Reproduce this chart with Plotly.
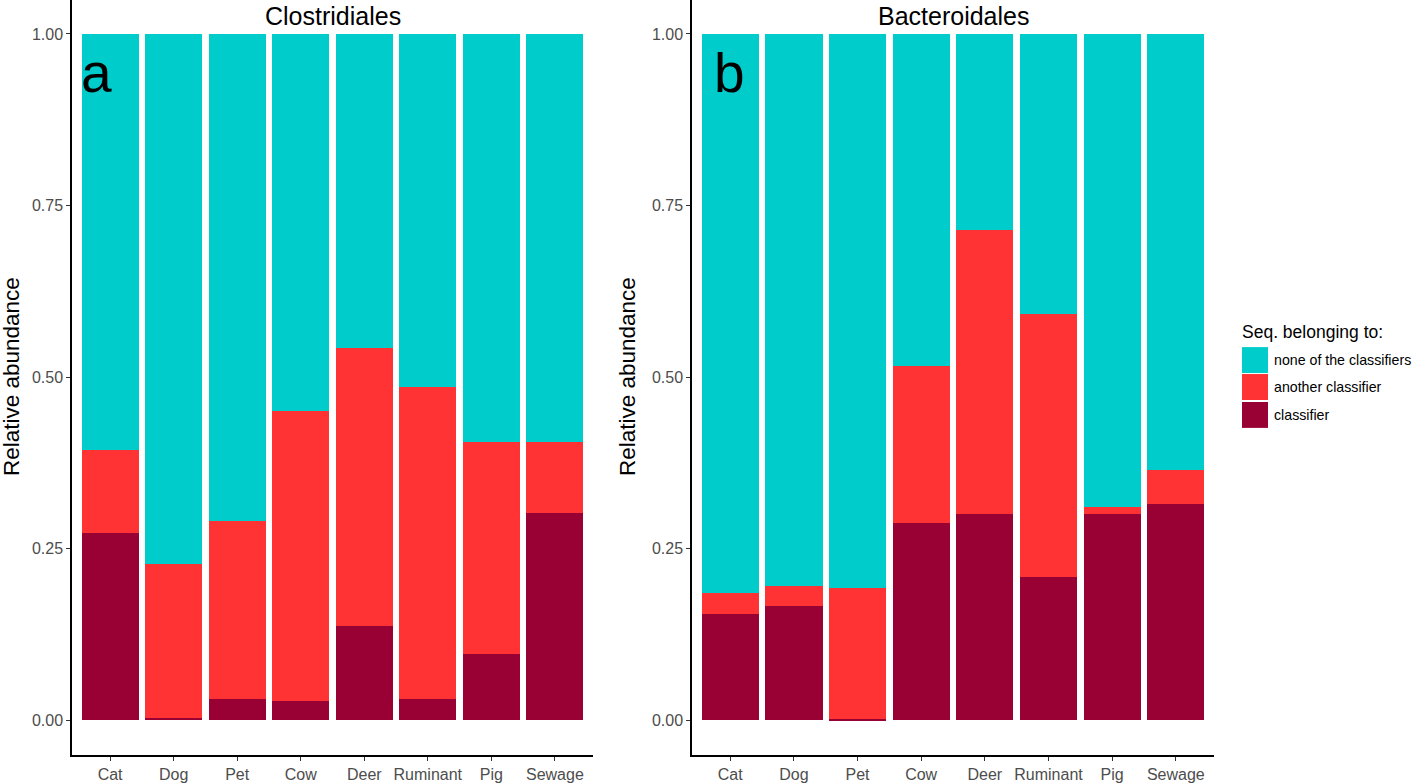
import plotly.graph_objects as go

categories = ["Cat", "Dog", "Pet", "Cow", "Deer", "Ruminant", "Pig", "Sewage"]

# Clostridiales (panel a) - classifier share and cumulative top of "another classifier"
clos_classifier = [0.273, 0.003, 0.031, 0.028, 0.137, 0.031, 0.096, 0.302]
clos_another_top = [0.394, 0.228, 0.290, 0.450, 0.542, 0.486, 0.405, 0.405]

# Bacteroidales (panel b)
bact_classifier = [0.155, 0.166, 0.002, 0.288, 0.300, 0.209, 0.300, 0.315]
bact_another_top = [0.185, 0.196, 0.192, 0.516, 0.714, 0.592, 0.311, 0.364]

series_names = ["classifier", "another classifier", "none of the classifiers"]
legend_order = ["none of the classifiers", "another classifier", "classifier"]
colors = {"classifier": "#990033", "another classifier": "#FF3333", "none of the classifiers": "#00CCCC"}
panel_titles = ["Clostridiales", "Bacteroidales"]
panel_letters = ["a", "b"]
y_tickvals = [0, 0.25, 0.5, 0.75, 1.0]

FONT = "Liberation Sans, Arial, Helvetica, sans-serif"
W, H = 1414, 783


def px(x):
    return x / W


def py(y):
    return 1 - y / H


fig = go.Figure()

panels = [(clos_classifier, clos_another_top), (bact_classifier, bact_another_top)]
for i, (cls, top) in enumerate(panels):
    xa = "x" if i == 0 else "x2"
    ya = "y" if i == 0 else "y2"
    another = [t - c for t, c in zip(top, cls)]
    none = [1 - t for t in top]
    for name, vals in zip(series_names, [cls, another, none]):
        fig.add_trace(go.Bar(
            x=categories, y=vals, name=name, xaxis=xa, yaxis=ya,
            marker=dict(color=colors[name], line=dict(width=0)),
            showlegend=False, hoverinfo="x+y+name",
        ))

# pixel geometry of the panels
y_top_px, y_bot_px = 0, 757
y1_px, y0_px = 34, 722
unit = (y0_px - y1_px)
y_range = [-(y_bot_px - y0_px) / unit, 1 + (y1_px - y_top_px) / unit]
x_domains = [[px(72), px(593)], [px(692), px(1214)]]
y_domain = [py(y_bot_px), py(y_top_px)]

axis_common = dict(
    showgrid=False, zeroline=False, showline=True, linecolor="black", linewidth=1.5,
    ticks="outside", ticklen=4, tickcolor="#333333", tickwidth=1,
    tickfont=dict(family=FONT, size=16, color="#4d4d4d"),
)

layout_axes = {}
for i in range(2):
    sx = "" if i == 0 else "2"
    layout_axes["xaxis" + sx] = dict(
        domain=x_domains[i], anchor="y" + sx, range=[-0.6, 7.6],
        type="category", **axis_common,
    )
    layout_axes["yaxis" + sx] = dict(
        domain=y_domain, anchor="x" + sx, range=y_range,
        tickvals=y_tickvals, tickformat=".2f", **axis_common,
    )

annotations = []
centers = [(72 + 593) / 2, (692 + 1214) / 2]
ytitle_x = [11, 627]
letter_x = [96, 729]
for i in range(2):
    annotations.append(dict(
        text=panel_titles[i], x=px(centers[i]), y=py(16), xref="paper", yref="paper",
        showarrow=False, xanchor="center", yanchor="middle",
        font=dict(family=FONT, size=25, color="black"),
    ))
    annotations.append(dict(
        text=panel_letters[i], x=px(letter_x[i]), y=py(73), xref="paper", yref="paper",
        showarrow=False, xanchor="center", yanchor="middle",
        font=dict(family=FONT, size=55, color="black"),
    ))
    annotations.append(dict(
        text="Relative abundance", x=px(ytitle_x[i]), y=py(378), xref="paper", yref="paper",
        showarrow=False, xanchor="center", yanchor="middle", textangle=-90,
        font=dict(family=FONT, size=22.5, color="black"),
    ))

# Custom legend
annotations.append(dict(
    text="Seq. belonging to:", x=px(1240), y=py(333), xref="paper", yref="paper",
    showarrow=False, xanchor="left", yanchor="middle",
    font=dict(family=FONT, size=17.5, color="black"),
))
shapes = []
key_tops = [348, 375, 403]
for name, kt in zip(legend_order, key_tops):
    shapes.append(dict(
        type="rect", xref="paper", yref="paper",
        x0=px(1242), x1=px(1268), y0=py(kt + 26), y1=py(kt),
        fillcolor=colors[name], line=dict(width=0),
    ))
    annotations.append(dict(
        text=name, x=px(1272), y=py(kt + 13), xref="paper", yref="paper",
        showarrow=False, xanchor="left", yanchor="middle",
        font=dict(family=FONT, size=14.2, color="black"),
    ))

fig.update_layout(
    width=W, height=H, barmode="stack", bargap=0.1,
    margin=dict(l=0, r=0, t=0, b=0),
    plot_bgcolor="white", paper_bgcolor="white",
    font=dict(family=FONT),
    annotations=annotations, shapes=shapes,
    **layout_axes,
)

fig.write_html(
    "out.html",
    config={"displayModeBar": False},
    post_script="document.body.style.margin='0';",
)
